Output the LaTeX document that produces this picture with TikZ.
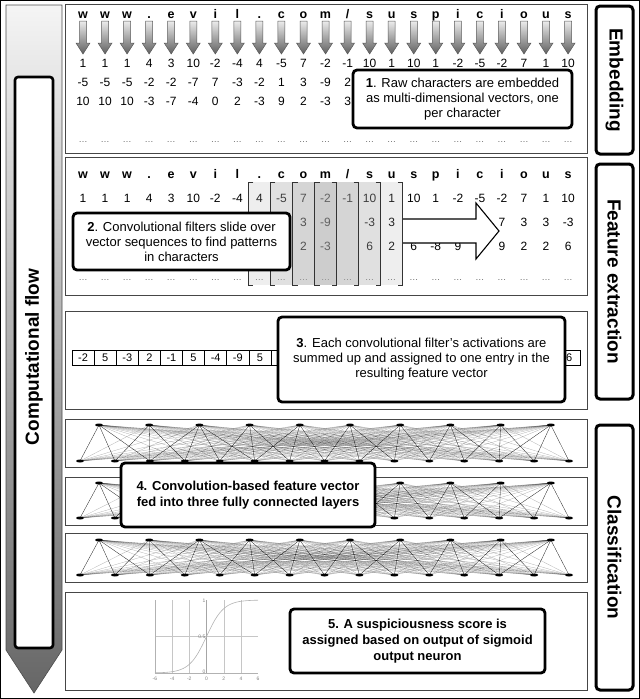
\documentclass[tikz,border=0pt]{standalone}
\usepackage{fontspec}
\setmainfont{Liberation Sans}
\usetikzlibrary{arrows.meta, positioning, shapes.geometric, calc}
\definecolor{framegray}{RGB}{70,70,70}
\definecolor{filtershade}{RGB}{170,170,170}

\begin{document}
\begin{tikzpicture}[x=1pt, y=-1pt,
    panel/.style={draw=framegray, line width=0.9pt},
    callout/.style={draw=black, fill=white, line width=2.8pt, rounded corners=4pt, align=center, inner sep=0pt, font=\fontsize{13}{15}\selectfont},
    sidelabel/.style={draw=black, fill=white, line width=3pt, rounded corners=4pt, inner sep=0pt, rotate=-90, font=\fontsize{19}{19}\selectfont\bfseries},
    letter/.style={anchor=base, inner sep=0pt, font=\fontsize{12.5}{12.5}\selectfont\bfseries},
    val/.style={anchor=base, inner sep=0pt, font=\fontsize{12}{12}\selectfont},
    more/.style={anchor=base, inner sep=0pt, font=\fontsize{9}{9}\selectfont, text=black!60},
    downarrow/.style={top color=gray!15, bottom color=gray!75!black, draw=black!65, line width=0.5pt},
    window/.style={fill=filtershade, fill opacity=0.2},
    bracket/.style={draw=black!80, line width=1pt},
    cell/.style={draw=black, line width=0.6pt, minimum width=22.1pt, minimum height=15pt, inner sep=0pt, font=\fontsize{11}{11}\selectfont},
    neuron/.style={ellipse, fill=black, minimum width=8pt, minimum height=3pt, inner sep=0pt},
    link/.style={draw=black, line width=0.3pt},
    grid line/.style={draw=gray!45, line width=0.4pt},
    tick/.style={font=\fontsize{5}{5}\selectfont, text=gray, inner sep=1pt}
]
\useasboundingbox (0,0) rectangle (640,699);
% outer frame
\draw[line width=1.2pt] (0.6,0.6) rectangle (639.4,698.4);

% computational flow arrow
\shade[top color=gray!8, bottom color=gray!80!black, draw=black!70, line width=0.6pt]
    (6,5) -- (62,5) -- (62,650) -- (34,693) -- (6,650) -- cycle;
\draw[fill=white, line width=2.6pt, rounded corners=3pt] (15,77) rectangle (53,648);
\node[rotate=90, font=\fontsize{19}{19}\selectfont\bfseries] (flow) at (34,357) {Computational flow};

% panels
\foreach \ya/\yb in {4/153, 157/295, 311/409, 419/467, 477/525, 533/582, 592/690}
    \draw[panel] (65,\ya) rectangle (587,\yb);

% embedding
\foreach \c [count=\i from 0] in {w,w,w,.,e,v,i,l,.,c,o,m,/,s,u,s,p,i,c,i,o,u,s} {
    \node[letter] (chA\i) at ({83+22.05*\i},18) {\c};
    \shade[downarrow] ({79.5+22.05*\i},21) -- ++(7,0) -- ++(0,22) -- ++(3.5,0) -- ++(-7,11) -- ++(-7,-11) -- ++(3.5,0) -- cycle;
    \node[more] (mA\i) at ({83+22.05*\i},142) {\ldots};
}
\foreach \v [count=\i from 0] in {1,1,1,4,3,10,-2,-4,4,-5,7,-2,-1,10,1,10,1,-2,-5,-2,7,1,10}
    \node[val] (eA\i) at ({83+22.05*\i},67) {\v};
\foreach \v [count=\i from 0] in {-5,-5,-5,-2,-2,-7,7,-3,-2,1,3,-9,2,h,h,h,h,h,h,h,h,h,-3} {
    \if h\v\else\node[val] (eB\i) at ({83+22.05*\i},86) {\v};\fi
}
\foreach \v [count=\i from 0] in {10,10,10,-3,-7,-4,0,2,-3,9,2,-3,3,h,h,h,h,h,h,h,h,h,6} {
    \if h\v\else\node[val] (eC\i) at ({83+22.05*\i},105) {\v};\fi
}
\node[callout, minimum width=219pt, minimum height=58pt] (note1) at (462.5,99) {\textbf{1}. Raw characters are embedded\\as multi-dimensional vectors, one\\per character};

% feature extraction
\foreach \c [count=\i from 0] in {w,w,w,.,e,v,i,l,.,c,o,m,/,s,u,s,p,i,c,i,o,u,s} {
    \node[letter] (chB\i) at ({83+22.05*\i},178) {\c};
    \node[more] (mB\i) at ({83+22.05*\i},280) {\ldots};
}
\foreach \v [count=\i from 0] in {1,1,1,4,3,10,-2,-4,4,-5,7,-2,-1,10,1,10,1,-2,-5,-2,7,1,10}
    \node[val] (fA\i) at ({83+22.05*\i},202) {\v};
\foreach \v [count=\i from 0] in {h,h,h,h,h,h,h,h,h,h,3,-9,h,-3,3,h,h,h,h,7,3,3,-3} {
    \if h\v\else\node[val] (fB\i) at ({83+22.05*\i},226) {\v};\fi
}
\foreach \v [count=\i from 0] in {h,h,h,h,h,h,h,h,h,h,2,-3,h,6,2,6,-8,9,h,9,2,2,6} {
    \if h\v\else\node[val] (fC\i) at ({83+22.05*\i},250) {\v};\fi
}
\foreach \w in {0,...,3}
    \fill[window] ({248.4+22.05*\w},182) rectangle ++(88.2,103);
\foreach \w in {0,...,3} {
    \draw[bracket] ({253.4+22.05*\w},182) -| ({248.4+22.05*\w},285) -- ++(5,0);
    \draw[bracket] ({331.6+22.05*\w},182) -| ({336.6+22.05*\w},285) -- ++(-5,0);
}
\draw[fill=white, line width=1.1pt] (403,219) -- (476,219) -- (476,203) -- (499,231) -- (476,259) -- (476,243) -- (403,243);
\node[callout, minimum width=217pt, minimum height=57pt] (note2) at (181.5,241.5) {\textbf{2}. Convolutional filters slide over\\vector sequences to find patterns\\in characters};

% feature vector
\foreach \v [count=\i from 0] in {-2,5,-3,2,-1,5,-4,-9,5,-2,h,h,h,h,h,h,h,h,h,h,h,h,6} {
    \if h\v\else\node[cell] (feat\i) at ({83.05+22.1*\i},357.5) {\v};\fi
}
\node[callout, minimum width=287pt, minimum height=85pt] (note3) at (421.5,359.5) {\textbf{3}. Each convolutional filter's activations are\\summed up and assigned to one entry in the\\resulting feature vector};

% fully connected layers
\foreach \k/\ya/\yb in {a/425/461, b/483/518, c/540/575} {
    \foreach \t in {0,...,9}
        \node[neuron] (top\k\t) at ({99+50.2*\t},\ya) {};
    \foreach \b in {0,...,14}
        \node[neuron] (bot\k\b) at ({80+34.93*\b},\yb) {};
    \foreach \t in {0,...,9}
        \foreach \b in {0,...,14} {
            \pgfmathsetmacro{\dxlink}{abs(99+50.2*\t-80-34.93*\b)}
            \pgfmathsetmacro{\oplink}{\dxlink<56 ? 0.9 : 0.3}
            \draw[link, draw opacity=\oplink] (top\k\t.center) -- (bot\k\b.center);
        }
}
\node[callout, font=\fontsize{13}{16}\selectfont\bfseries, minimum width=254pt, minimum height=64pt] (note4) at (248,495) {4. Convolution-based feature vector\\fed into three fully connected layers};

% sigmoid output
\foreach \g in {-4,-2,2,4}
    \draw[grid line] ({206.5+8.6*\g},600) -- ({206.5+8.6*\g},673);
\draw[grid line] (155,636.5) -- (258,636.5);
\draw[gray!70, line width=0.8pt] (206.5,600) -- (206.5,673);
\draw[gray!60, line width=0.5pt] (155,600) -- (155,673) -- (258,673);
\draw[gray!60, line width=0.6pt, domain=-6:6, samples=80, smooth] plot ({206.5+8.6*\x},{673-73/(1+exp(-\x))});
\foreach \g in {-6,-4,...,6}
    \node[tick, anchor=north] (xt\g) at ({206.5+8.6*\g},676) {\g};
\node[tick, anchor=east] (yt1) at (206.5,601) {1};
\node[tick, anchor=east] (yt2) at (206.5,636.5) {0.5};
\node[tick, anchor=east] (yt3) at (206.5,672) {0};
\node[callout, font=\fontsize{13}{16}\selectfont\bfseries, minimum width=255pt, minimum height=64pt] (note5) at (417.5,641) {5. A suspiciousness score is\\assigned based on output of sigmoid\\output neuron};

% stage labels
\node[sidelabel, minimum width=148pt, minimum height=37pt] (embed) at (614.5,80) {Embedding};
\node[sidelabel, minimum width=235pt, minimum height=37pt] (extract) at (614.5,281.5) {Feature extraction};
\node[sidelabel, minimum width=265pt, minimum height=37pt] (classify) at (614.5,557.5) {Classification};
\end{tikzpicture}
\end{document}
